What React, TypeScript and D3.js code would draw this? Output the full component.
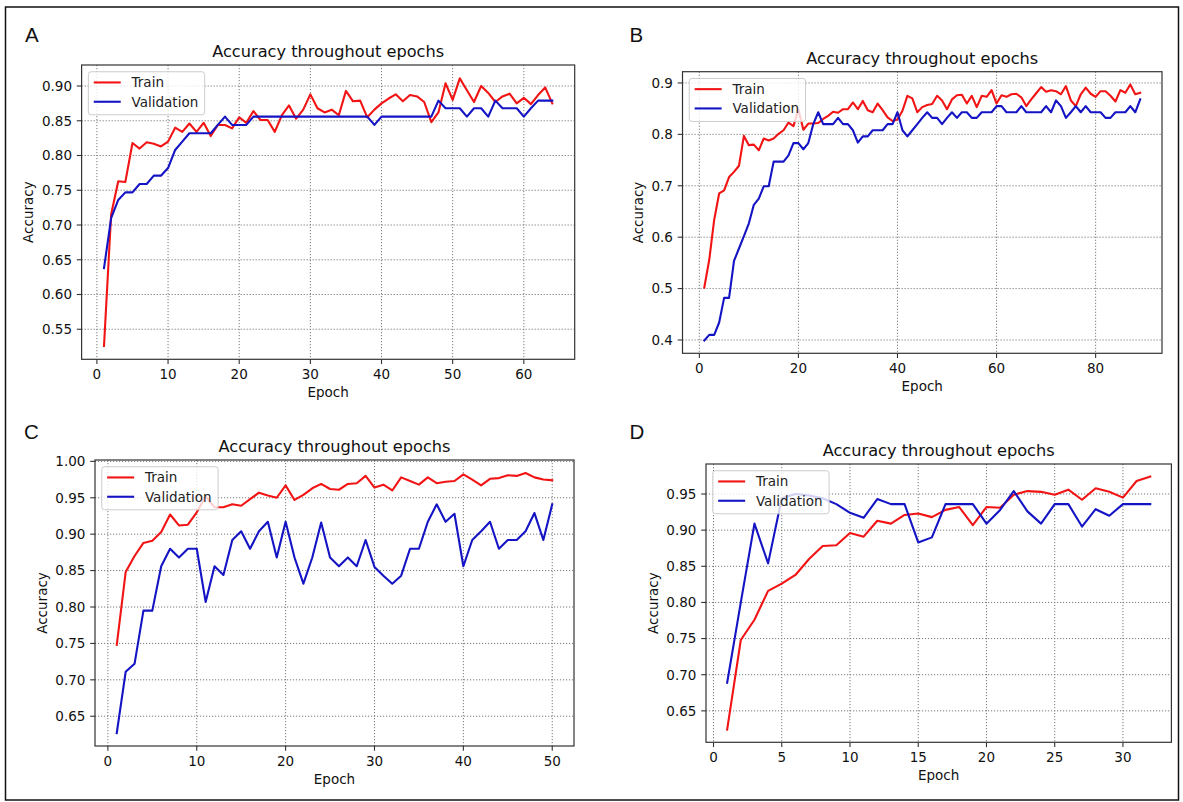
import React from 'react';
import * as d3 from 'd3';

// ---------------- DATA ----------------
const trainA = [
  0.526, 0.715, 0.763, 0.762, 0.818, 0.810, 0.819, 0.817, 0.813, 0.820,
  0.840, 0.834, 0.846, 0.834, 0.847, 0.828, 0.844, 0.844, 0.839, 0.855,
  0.847, 0.864, 0.851, 0.851, 0.834, 0.858, 0.872, 0.853, 0.866, 0.888,
  0.868, 0.862, 0.866, 0.858, 0.893, 0.878, 0.879, 0.855, 0.866, 0.875,
  0.882, 0.888, 0.878, 0.887, 0.885, 0.877, 0.848, 0.862, 0.904, 0.880,
  0.911, 0.894, 0.877, 0.900, 0.890, 0.877, 0.885, 0.889, 0.875, 0.883,
  0.874, 0.887, 0.898, 0.875,
];
const valA = [
  0.638, 0.710, 0.736, 0.747, 0.747, 0.759, 0.759, 0.771, 0.771, 0.782,
  0.808, 0.820, 0.832, 0.832, 0.832, 0.832, 0.844, 0.856, 0.844, 0.844,
  0.844, 0.856, 0.856, 0.856, 0.856, 0.856, 0.856, 0.856, 0.856, 0.856,
  0.856, 0.856, 0.856, 0.856, 0.856, 0.856, 0.856, 0.856, 0.844, 0.856,
  0.856, 0.856, 0.856, 0.856, 0.856, 0.856, 0.856, 0.879, 0.868, 0.868,
  0.868, 0.856, 0.868, 0.868, 0.856, 0.879, 0.868, 0.868, 0.868, 0.856,
  0.868, 0.879, 0.879, 0.879,
];
const trainB = [
  0.502, 0.556, 0.634, 0.685, 0.691, 0.717, 0.727, 0.739, 0.797, 0.779,
  0.780, 0.769, 0.792, 0.788, 0.792, 0.801, 0.808, 0.823, 0.816, 0.849,
  0.809, 0.821, 0.821, 0.822, 0.830, 0.836, 0.844, 0.842, 0.849, 0.849,
  0.862, 0.849, 0.865, 0.847, 0.843, 0.860, 0.847, 0.833, 0.826, 0.829,
  0.846, 0.875, 0.870, 0.843, 0.853, 0.857, 0.859, 0.875, 0.866, 0.849,
  0.868, 0.876, 0.877, 0.860, 0.875, 0.853, 0.875, 0.873, 0.886, 0.860,
  0.876, 0.873, 0.878, 0.879, 0.872, 0.855, 0.868, 0.880, 0.892, 0.883,
  0.886, 0.884, 0.878, 0.894, 0.866, 0.855, 0.878, 0.891, 0.879, 0.873,
  0.884, 0.884, 0.875, 0.864, 0.886, 0.881, 0.897, 0.878, 0.881,
];
const valB = [
  0.399, 0.410, 0.410, 0.434, 0.482, 0.482, 0.554, 0.578, 0.602, 0.627,
  0.663, 0.675, 0.699, 0.699, 0.747, 0.747, 0.747, 0.759, 0.783, 0.783,
  0.771, 0.783, 0.820, 0.843, 0.820, 0.820, 0.820, 0.832, 0.820, 0.820,
  0.808, 0.784, 0.796, 0.796, 0.808, 0.808, 0.808, 0.820, 0.820, 0.843,
  0.808, 0.796, 0.808, 0.820, 0.832, 0.843, 0.832, 0.832, 0.820, 0.832,
  0.843, 0.832, 0.843, 0.843, 0.832, 0.832, 0.843, 0.843, 0.843, 0.855,
  0.855, 0.843, 0.843, 0.843, 0.855, 0.843, 0.843, 0.843, 0.843, 0.855,
  0.843, 0.866, 0.855, 0.832, 0.843, 0.855, 0.843, 0.855, 0.843, 0.843,
  0.843, 0.832, 0.832, 0.843, 0.843, 0.843, 0.855, 0.843, 0.868,
];
const trainC = [
  0.748, 0.848, 0.870, 0.888, 0.891, 0.903, 0.927, 0.912, 0.913, 0.930,
  0.952, 0.937, 0.937, 0.941, 0.939, 0.948, 0.957, 0.953, 0.950, 0.967,
  0.947, 0.954, 0.963, 0.969, 0.962, 0.961, 0.969, 0.970, 0.980, 0.964,
  0.968, 0.960, 0.978, 0.973, 0.968, 0.978, 0.970, 0.972, 0.973, 0.982,
  0.975, 0.967, 0.976, 0.977, 0.981, 0.980, 0.984, 0.978, 0.975, 0.974,
];
const valC = [
  0.627, 0.711, 0.722, 0.795, 0.795, 0.856, 0.880, 0.868, 0.880, 0.880,
  0.807, 0.856, 0.844, 0.892, 0.904, 0.880, 0.904, 0.917, 0.868, 0.917,
  0.868, 0.832, 0.868, 0.916, 0.868, 0.856, 0.868, 0.856, 0.892, 0.855,
  0.843, 0.832, 0.843, 0.880, 0.880, 0.917, 0.941, 0.917, 0.928, 0.856,
  0.892, 0.904, 0.917, 0.880, 0.892, 0.892, 0.904, 0.929, 0.892, 0.941,
];
const trainD = [
  0.624, 0.748, 0.776, 0.816, 0.826, 0.838, 0.860, 0.878, 0.879, 0.896,
  0.891, 0.913, 0.909, 0.921, 0.923, 0.918, 0.928, 0.932, 0.907, 0.932,
  0.931, 0.949, 0.954, 0.953, 0.949, 0.956, 0.942, 0.958, 0.953, 0.945,
  0.968, 0.974,
];
const valD = [
  0.689, 0.800, 0.909, 0.854, 0.944, 0.950, 0.948, 0.944, 0.936, 0.924,
  0.917, 0.943, 0.936, 0.936, 0.883, 0.890, 0.936, 0.936, 0.936, 0.909,
  0.928, 0.954, 0.926, 0.909, 0.936, 0.936, 0.905, 0.929, 0.920, 0.936,
  0.936, 0.936,
];

const xTicksA = [0, 10, 20, 30, 40, 50, 60];
const yTicksA = [0.55, 0.6, 0.65, 0.7, 0.75, 0.8, 0.85, 0.9];
const xTicksB = [0, 20, 40, 60, 80];
const yTicksB = [0.4, 0.5, 0.6, 0.7, 0.8, 0.9];
const xTicksC = [0, 10, 20, 30, 40, 50];
const yTicksC = [0.65, 0.7, 0.75, 0.8, 0.85, 0.9, 0.95, 1.0];
const xTicksD = [0, 5, 10, 15, 20, 25, 30];
const yTicksD = [0.65, 0.7, 0.75, 0.8, 0.85, 0.9, 0.95];

const panelLetters = ['A', 'B', 'C', 'D'];
const seriesNames = ['Train', 'Validation'];
const titleText = 'Accuracy throughout epochs';
const xLabelText = 'Epoch';
const yLabelText = 'Accuracy';

// ---------------- LAYOUT / STYLE ----------------
const W = 1183;
const H = 802;
const FONT = '"DejaVu Sans", Verdana, sans-serif';
const FS = 13.5;
const TITLE_FS = 16.2;
const TICK_LEN = 4.8;
const TICK_PAD = 4.8;
const RED = '#f21414';
const BLUE = '#1414c4';
const GRID = '#7a7a7a';
const FRAME = '#333333';

const layouts = [
  { left: 81.6, right: 574.7, top: 65, bottom: 359.3, lx: 25, ly: 41.5, dec: 2 },
  { left: 682.5, right: 1162, top: 71.7, bottom: 353.3, lx: 629.5, ly: 41.5, dec: 1 },
  { left: 95, right: 574, top: 460, bottom: 746, lx: 24, ly: 439, dec: 2 },
  { left: 706, right: 1171.4, top: 464, bottom: 742.3, lx: 629.5, ly: 438.5, dec: 2 },
];

const panelData = [
  { train: trainA, val: valA, xTicks: xTicksA, yTicks: yTicksA },
  { train: trainB, val: valB, xTicks: xTicksB, yTicks: yTicksB },
  { train: trainC, val: valC, xTicks: xTicksC, yTicks: yTicksC },
  { train: trainD, val: valD, xTicks: xTicksD, yTicks: yTicksD },
];

function Panel({ idx }: { idx: number }) {
  const L = layouts[idx];
  const D = panelData[idx];
  const n = D.train.length;
  const xPad = 0.05 * (n - 1);
  const x = d3.scaleLinear().domain([1 - xPad, n + xPad]).range([L.left, L.right]);
  const all = D.train.concat(D.val);
  const mn = d3.min(all) as number;
  const mx = d3.max(all) as number;
  const yPad = 0.05 * (mx - mn);
  const y = d3.scaleLinear().domain([mn - yPad, mx + yPad]).range([L.bottom, L.top]);
  const line = d3
    .line<number>()
    .x((_, i) => x(i + 1))
    .y((d) => y(d));

  const fmt = d3.format(`.${L.dec}f`);
  const tickLabelW = FS * ((L.dec + 1) * 0.636 + 0.318);
  const yLabelX = L.left - TICK_LEN - TICK_PAD - tickLabelW - 5.6 - 3.2;
  const cy = (L.top + L.bottom) / 2;
  const cx = (L.left + L.right) / 2;

  const lgX = L.left + 6.75;
  const lgY = L.top + 6.75;
  const lgW = 5.4 + 27 + 10.8 + FS * 5.016 + 5.4;
  const lgH = 43;
  const rows = [lgY + 10.7, lgY + 30];
  const colors = [RED, BLUE];
  const clipId = `clip${idx}`;

  return (
    <g>
      <defs>
        <clipPath id={clipId}>
          <rect x={L.left} y={L.top} width={L.right - L.left} height={L.bottom - L.top} />
        </clipPath>
      </defs>
      <text x={L.lx} y={L.ly} fontFamily='"Liberation Sans", Arial, sans-serif' fontSize={20.5} fill="#111">
        {panelLetters[idx]}
      </text>
      <text x={cx} y={L.top - 7.8} textAnchor="middle" fontFamily={FONT} fontSize={TITLE_FS} fill="#111">
        {titleText}
      </text>
      {/* grid */}
      <g stroke={GRID} strokeWidth={1} strokeDasharray="1.2,1.8" fill="none">
        {D.xTicks.map((t) => (
          <line key={'gx' + t} x1={x(t)} x2={x(t)} y1={L.top} y2={L.bottom} />
        ))}
        {D.yTicks.map((t) => (
          <line key={'gy' + t} x1={L.left} x2={L.right} y1={y(t)} y2={y(t)} />
        ))}
      </g>
      {/* series */}
      <g clipPath={`url(#${clipId})`} fill="none" strokeWidth={2.1} strokeLinejoin="round" strokeLinecap="square">
        <path d={line(D.train) || ''} stroke={RED} />
        <path d={line(D.val) || ''} stroke={BLUE} />
      </g>
      {/* frame */}
      <rect x={L.left} y={L.top} width={L.right - L.left} height={L.bottom - L.top} fill="none" stroke={FRAME} strokeWidth={1.2} />
      {/* ticks and labels */}
      <g fontFamily={FONT} fontSize={FS} fill="#111">
        {D.xTicks.map((t) => (
          <g key={'xt' + t}>
            <line x1={x(t)} x2={x(t)} y1={L.bottom} y2={L.bottom + TICK_LEN} stroke={FRAME} strokeWidth={1.1} />
            <text x={x(t)} y={L.bottom + TICK_LEN + TICK_PAD + FS * 0.76} textAnchor="middle">
              {t}
            </text>
          </g>
        ))}
        {D.yTicks.map((t) => (
          <g key={'yt' + t}>
            <line x1={L.left - TICK_LEN} x2={L.left} y1={y(t)} y2={y(t)} stroke={FRAME} strokeWidth={1.1} />
            <text x={L.left - TICK_LEN - TICK_PAD} y={y(t) + FS * 0.36} textAnchor="end">
              {fmt(t)}
            </text>
          </g>
        ))}
        <text x={cx} y={L.bottom + 38} textAnchor="middle">
          {xLabelText}
        </text>
        <text transform={`translate(${yLabelX},${cy}) rotate(-90)`} textAnchor="middle">
          {yLabelText}
        </text>
      </g>
      {/* legend */}
      <g>
        <rect x={lgX} y={lgY} width={lgW} height={lgH} rx={2.7} ry={2.7} fill="white" fillOpacity={0.8} stroke="#cccccc" strokeWidth={1} />
        {seriesNames.map((s, i) => (
          <g key={s}>
            <line x1={lgX + 5.4} x2={lgX + 32.4} y1={rows[i]} y2={rows[i]} stroke={colors[i]} strokeWidth={2.1} />
            <text x={lgX + 43.2} y={rows[i] + FS * 0.36} fontFamily={FONT} fontSize={FS} fill="#222">
              {s}
            </text>
          </g>
        ))}
      </g>
    </g>
  );
}

export default function App() {
  return (
    <svg
      width={W}
      height={H}
      viewBox={`0 0 ${W} ${H}`}
      style={{ position: 'absolute', left: 0, top: 0, display: 'block', background: 'white' }}
    >
      <rect x={0} y={0} width={W} height={H} fill="white" />
      <rect x={5.5} y={7} width={1173} height={793} fill="none" stroke="#111" strokeWidth={1.5} />
      {[0, 1, 2, 3].map((i) => (
        <Panel key={i} idx={i} />
      ))}
    </svg>
  );
}
